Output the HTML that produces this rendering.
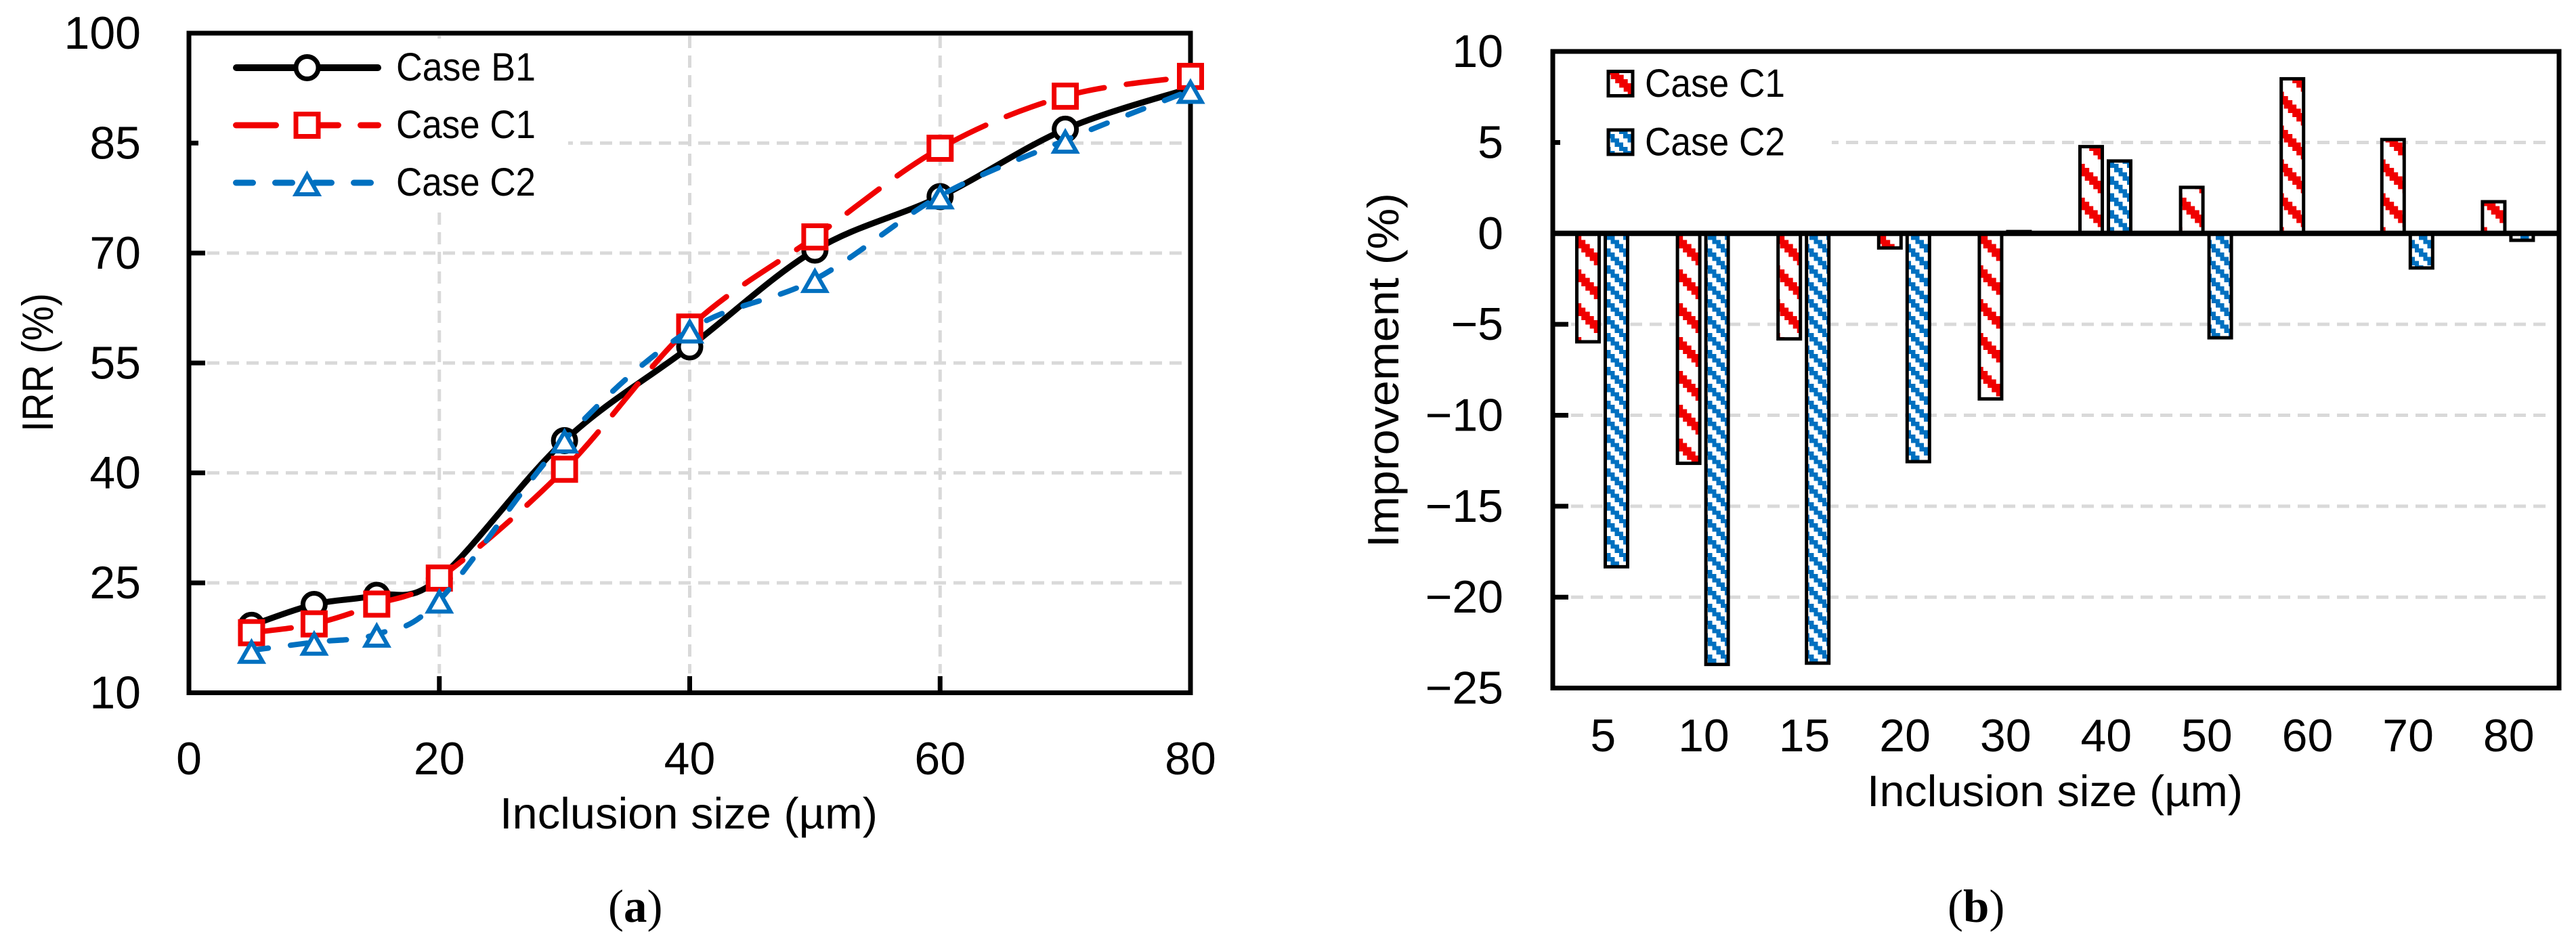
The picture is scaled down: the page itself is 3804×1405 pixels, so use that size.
<!DOCTYPE html>
<html lang="en">
<head>
<meta charset="utf-8">
<title>Inclusion size charts</title>
<style>
html,body{margin:0;padding:0;background:#fff;}
svg{display:block;}
text{font-family:"Liberation Sans",sans-serif;fill:#000;}
.cap{font-family:"Liberation Serif",serif;}
</style>
</head>
<body>
<svg id="fig" xmlns="http://www.w3.org/2000/svg" width="3804" height="1405" viewBox="0 0 3804 1405">
  <defs id="defs"></defs>
  <rect x="0" y="0" width="3804" height="1405" fill="#fff"/>

  <g id="panelA">
    <g id="gridA"></g>
    <g id="ticksA"></g>
    <rect x="293" y="57" width="546" height="255" fill="#fff"/>
    <rect x="279" y="49" width="1479" height="974.5" fill="none" stroke="#000" stroke-width="7"/>
    <g id="seriesA"></g>
    <g>
      <g>
        <line x1="349" y1="100" x2="558" y2="100" stroke="#000" stroke-width="10" stroke-linecap="round"/>
        <circle cx="453.5" cy="100" r="16.5" fill="#fff" stroke="#000" stroke-width="7"/>
        <text x="585" y="119" font-size="58" textLength="206" lengthAdjust="spacingAndGlyphs">Case B1</text>
      </g>
      <g>
        <line x1="348.5" y1="185" x2="558.5" y2="185" stroke="#f00000" stroke-width="9" stroke-linecap="round" stroke-dasharray="59 33"/>
        <rect x="437" y="168.5" width="33" height="33" fill="#fff" stroke="#f00000" stroke-width="7"/>
        <text x="585" y="204" font-size="58" textLength="206" lengthAdjust="spacingAndGlyphs">Case C1</text>
      </g>
      <g>
        <line x1="348.5" y1="270" x2="549" y2="270" stroke="#0070c0" stroke-width="9" stroke-linecap="round" stroke-dasharray="25 33"/>
        <polygon points="453.5,258 470,287 437,287" fill="#fff" stroke="#0070c0" stroke-width="6"/>
        <text x="585" y="289" font-size="58" textLength="206" lengthAdjust="spacingAndGlyphs">Case C2</text>
      </g>
    </g>
    <text x="738" y="1224" font-size="65" textLength="558" lengthAdjust="spacingAndGlyphs">Inclusion size (µm)</text>
    <text transform="translate(78,638) rotate(-90)" x="0" y="0" font-size="65" textLength="205" lengthAdjust="spacingAndGlyphs">IRR (%)</text>
    <text class="cap" x="898" y="1362" font-size="69">(<tspan font-weight="bold">a</tspan>)</text>
  </g>

  <g id="panelB">
    <g id="gridB"></g>
    <g id="ticksB"></g>
    <rect x="2304" y="80" width="401" height="250" fill="#fff"/>
    <g id="barsB"></g>
    <rect x="2293" y="76" width="1486" height="940.5" fill="none" stroke="#000" stroke-width="7"/>
    <line id="zeroB" x1="2293" x2="3779" stroke="#000" stroke-width="8"/>
    <g>
      <g>
        <rect x="2375" y="105.5" width="36" height="36" fill="url(#hatchRed)" stroke="#000" stroke-width="5"/>
        <text x="2429" y="143" font-size="58" textLength="207" lengthAdjust="spacingAndGlyphs">Case C1</text>
      </g>
      <g>
        <rect x="2375" y="192" width="36" height="36" fill="url(#hatchBlue)" stroke="#000" stroke-width="5"/>
        <text x="2429" y="229.5" font-size="58" textLength="207" lengthAdjust="spacingAndGlyphs">Case C2</text>
      </g>
    </g>
    <text x="2757" y="1191" font-size="65" textLength="555" lengthAdjust="spacingAndGlyphs">Inclusion size (µm)</text>
    <text transform="translate(2065,809) rotate(-90)" x="0" y="0" font-size="65" textLength="524" lengthAdjust="spacingAndGlyphs">Improvement (%)</text>
    <text class="cap" x="2876" y="1362" font-size="69">(<tspan font-weight="bold">b</tspan>)</text>
  </g>
</svg>

<script>
// Panel (a) data
const sizesA = [5, 10, 15, 20, 30, 40, 50, 60, 70, 80];
const caseB1 = [19.2, 22.05, 23.3, 25.6, 44.4, 57.2, 70.4, 77.7, 86.9, 92.5];
const caseC1 = [18.2, 19.4, 22.1, 25.65, 40.5, 59.9, 72.2, 84.3, 91.4, 94.1];
const caseC2 = [15.8, 16.9, 18.0, 22.65, 44.5, 59.5, 66.4, 77.8, 85.4, 92.2];
const xTicksA = [0, 20, 40, 60, 80];
const yTicksA = [10, 25, 40, 55, 70, 85, 100];

// Panel (b) data
const categoriesB = [5, 10, 15, 20, 30, 40, 50, 60, 70, 80];
const improvementC1 = [-5.96, -12.64, -5.8, -0.8, -9.1, 4.77, 2.53, 8.5, 5.16, 1.74];
const improvementC2 = [-18.33, -23.7, -23.63, -12.55, 0.1, 3.98, -5.74, 0, -1.9, -0.38];
const yTicksB = [10, 5, 0, -5, -10, -15, -20, -25];

const NS = 'http://www.w3.org/2000/svg';
function add(parent, tag, attrs, content) {
  const el = document.createElementNS(NS, tag);
  for (const k in attrs) el.setAttribute(k, attrs[k]);
  if (content !== undefined) el.textContent = content;
  parent.appendChild(el);
  return el;
}
const byId = id => document.getElementById(id);

// Axis functions
const xA = v => 279 + (v / 80) * 1479;
const yA = v => 1023.5 - ((v - 10) / 90) * 974.5;
const bandB = 1486 / categoriesB.length;
const xB = i => 2293 + bandB * (i + 0.5);
const yB = v => 344.8 - v * 26.87;

// Hatch patterns
const defs = byId('defs');
const redPat = add(defs, 'pattern', {id: 'hatchRed', patternUnits: 'userSpaceOnUse', width: 50, height: 50, patternTransform: 'translate(2328.7,398)'});
add(redPat, 'rect', {x: 0, y: 0, width: 50, height: 50, fill: '#fff'});
for (let r = 0; r < 8; r++) {
  for (let k = 0; k < 3; k++) {
    const c = (r - k + 8) % 8;
    add(redPat, 'rect', {x: c * 6.25, y: r * 6.25, width: 6.25, height: 6.25, fill: '#f00000', 'shape-rendering': 'crispEdges'});
  }
}
const bluePat = add(defs, 'pattern', {id: 'hatchBlue', patternUnits: 'userSpaceOnUse', width: 25, height: 25, patternTransform: 'translate(2372,348)'});
add(bluePat, 'rect', {x: 0, y: 0, width: 25, height: 25, fill: '#fff'});
for (let r = 0; r < 4; r++) {
  for (let k = 0; k < 2; k++) {
    const c = (r + k) % 4;
    add(bluePat, 'rect', {x: c * 6.25, y: r * 6.25, width: 6.25, height: 6.25, fill: '#0070c0', 'shape-rendering': 'crispEdges'});
  }
}

const gridStyle = {stroke: '#d9d9d9', 'stroke-width': 5, 'stroke-dasharray': '18 11'};

// Panel (a): grid, ticks, labels
const gridA = byId('gridA');
const ticksA = byId('ticksA');
yTicksA.forEach(v => {
  if (v > 10 && v < 100) {
    const g = add(gridA, 'line', Object.assign({x1: 306, x2: 1754, y1: yA(v), y2: yA(v)}, gridStyle));
    
    
    const t = add(ticksA, 'line', {x1: 279, x2: 303, y1: yA(v), y2: yA(v), stroke: '#000', 'stroke-width': 7});
    
    
  }
  const lab = add(ticksA, 'text', {x: 208, y: yA(v) + 23, 'font-size': 68, 'text-anchor': 'end'}, String(v));
  
  
});
xTicksA.forEach(v => {
  if (v > 0 && v < 80) {
    const g = add(gridA, 'line', Object.assign({x1: xA(v), x2: xA(v), y1: 53, y2: 995}, gridStyle));
    
    
    const t = add(ticksA, 'line', {x1: xA(v), x2: xA(v), y1: 999, y2: 1023, stroke: '#000', 'stroke-width': 7});
    
    
  }
  const lab = add(ticksA, 'text', {x: xA(v), y: 1144, 'font-size': 68, 'text-anchor': 'middle'}, String(v));
  
  
});

// Panel (a): smooth lines with markers
function smoothPath(values) {
  const p = values.map((v, i) => [xA(sizesA[i]), yA(v)]);
  let d = 'M' + p[0][0] + ' ' + p[0][1];
  for (let i = 0; i < p.length - 1; i++) {
    const a = p[Math.max(i - 1, 0)], b = p[i], c = p[i + 1], e = p[Math.min(i + 2, p.length - 1)];
    d += ' C' + (b[0] + (c[0] - a[0]) / 6) + ' ' + (b[1] + (c[1] - a[1]) / 6) + ' ' +
         (c[0] - (e[0] - b[0]) / 6) + ' ' + (c[1] - (e[1] - b[1]) / 6) + ' ' + c[0] + ' ' + c[1];
  }
  return d;
}
const seriesA = byId('seriesA');

const lineB1 = add(seriesA, 'path', {d: smoothPath(caseB1), fill: 'none', stroke: '#000', 'stroke-width': 9});


caseB1.forEach((v, i) => {
  if (i === caseB1.length - 1) return;
  const m = add(seriesA, 'circle', {cx: xA(sizesA[i]), cy: yA(v), r: 16.5, fill: '#fff', stroke: '#000', 'stroke-width': 7});
  
  
});

const lineC1 = add(seriesA, 'path', {d: smoothPath(caseC1), fill: 'none', stroke: '#f00000', 'stroke-width': 8, 'stroke-linecap': 'round', 'stroke-dasharray': '59 33'});


caseC1.forEach((v, i) => {
  const m = add(seriesA, 'rect', {x: xA(sizesA[i]) - 16.5, y: yA(v) - 16.5, width: 33, height: 33, fill: '#fff', stroke: '#f00000', 'stroke-width': 7});
  
  
});

const lineC2 = add(seriesA, 'path', {d: smoothPath(caseC2), fill: 'none', stroke: '#0070c0', 'stroke-width': 8, 'stroke-linecap': 'round', 'stroke-dasharray': '25 33'});


caseC2.forEach((v, i) => {
  const cx = xA(sizesA[i]), cy = yA(v);
  const m = add(seriesA, 'polygon', {points: cx + ',' + (cy - 12) + ' ' + (cx + 16.5) + ',' + (cy + 17) + ' ' + (cx - 16.5) + ',' + (cy + 17), fill: '#fff', stroke: '#0070c0', 'stroke-width': 6});
  
  
});

// Panel (b): grid, ticks, labels
const gridB = byId('gridB');
const ticksB = byId('ticksB');
yTicksB.forEach(v => {
  if (v !== 0 && v < 10 && v > -25) {
    const g = add(gridB, 'line', Object.assign({x1: 2320, x2: 3768, y1: yB(v), y2: yB(v)}, gridStyle));
    
    
    const t = add(ticksB, 'line', {x1: 2293, x2: 2316, y1: yB(v), y2: yB(v), stroke: '#000', 'stroke-width': 7});
    
    
  }
  const txt = v < 0 ? '\u2212' + Math.abs(v) : String(v);
  const lab = add(ticksB, 'text', {x: 2220, y: yB(v) + 23, 'font-size': 68, 'text-anchor': 'end'}, txt);
  
  
});
categoriesB.forEach((c, i) => {
  const lab = add(ticksB, 'text', {x: xB(i), y: 1110, 'font-size': 68, 'text-anchor': 'middle'}, String(c));
  
  
});

// Panel (b): bars
const barsB = byId('barsB');
const barW = 33;
function barAttrs(x, v, fill) {
  const y0 = yB(0), y1 = yB(v);
  return {x: x, y: Math.min(y0, y1), width: barW, height: Math.abs(y1 - y0), fill: fill, stroke: '#000', 'stroke-width': 5};
}
improvementC1.forEach((v, i) => {
  const b = add(barsB, 'rect', barAttrs(xB(i) - 38.8, v, 'url(#hatchRed)'));
  
  
});
improvementC2.forEach((v, i) => {
  const b = add(barsB, 'rect', barAttrs(xB(i) + 3.2, v, 'url(#hatchBlue)'));
  
  
});
const zero = byId('zeroB');
zero.setAttribute('y1', yB(0));
zero.setAttribute('y2', yB(0));
</script>
</body>
</html>
